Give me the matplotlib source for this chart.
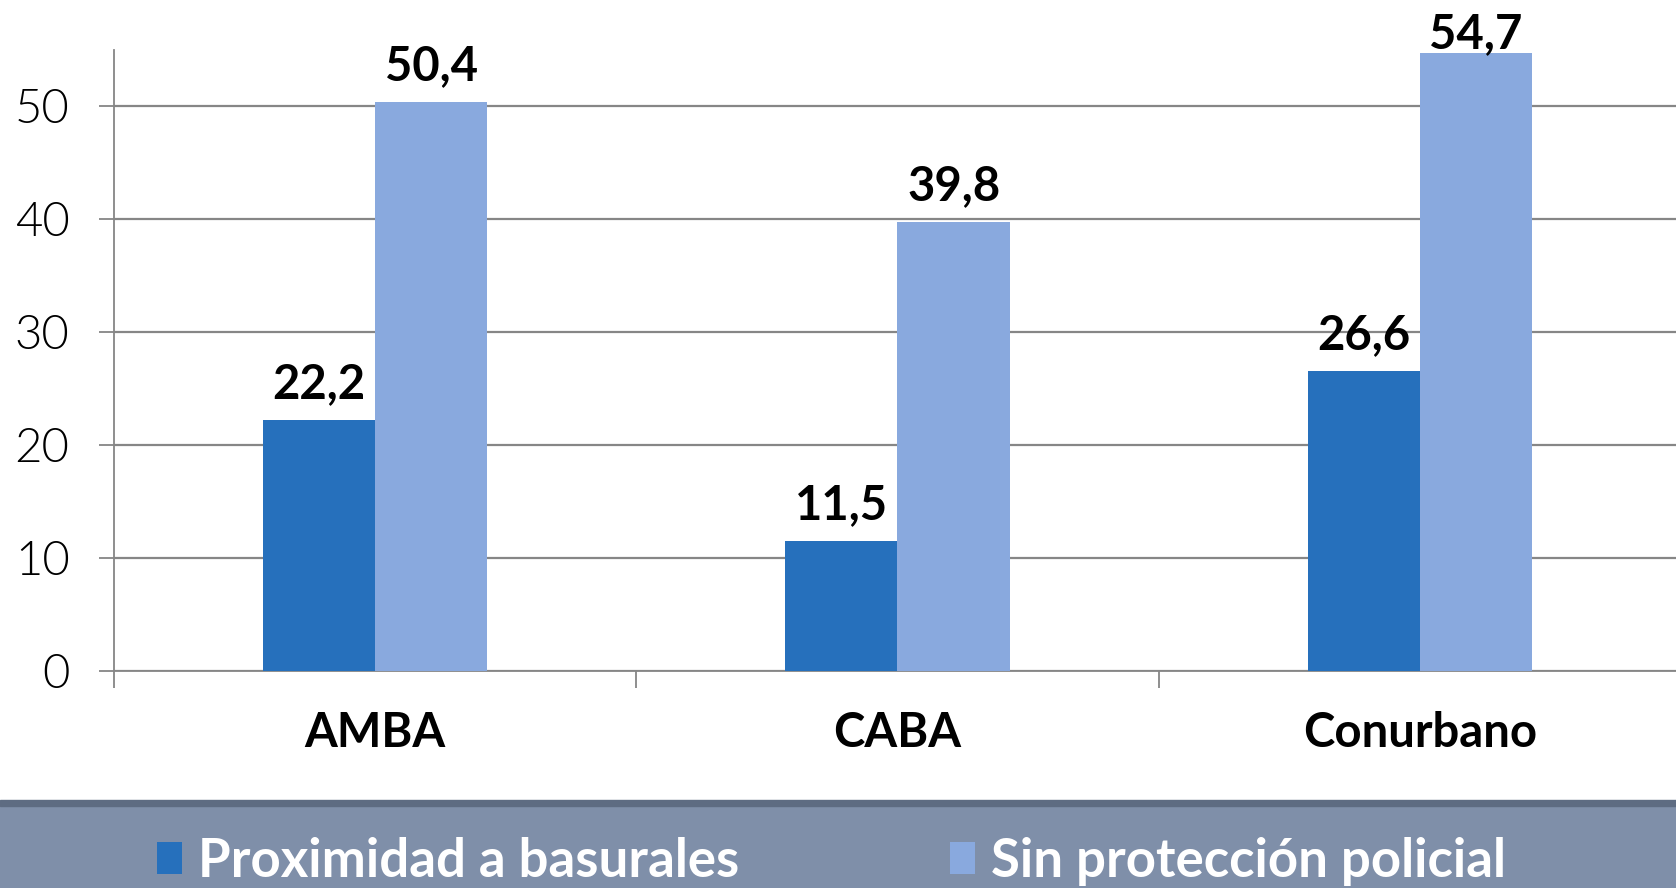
import matplotlib.pyplot as plt
import numpy as np
from matplotlib.patches import Rectangle

plt.rcParams['font.family'] = ['Lato', 'DejaVu Sans']

# datos
categorias = ['AMBA', 'CABA', 'Conurbano']
series = ['Proximidad a basurales', 'Sin protección policial']
basurales = [22.2, 11.5, 26.6]
sin_policia = [50.4, 39.8, 54.7]
etiquetas_y = [0, 10, 20, 30, 40, 50]

color_osc = '#2670BC'
color_cla = '#89A9DE'
gris = '#868686'

fig = plt.figure(figsize=(16.76, 8.88), dpi=100)
ax = fig.add_axes([0.068, 0.2444, 0.935, 0.6993])

x = np.arange(len(categorias))
w = 0.215
b1 = ax.bar(x - w / 2, basurales, w, color=color_osc, label=series[0], zorder=3)
b2 = ax.bar(x + w / 2, sin_policia, w, color=color_cla, label=series[1], zorder=3)

ymax = 55
ax.set_ylim(0, ymax)
ax.set_xlim(-0.5, 2.5)

# px por unidad del eje y
alto_px = ax.get_position().height * fig.get_figheight() * fig.dpi
px_unidad = alto_px / ymax

for barras in (b1, b2):
    for r in barras:
        v = r.get_height()
        # la etiqueta baja si no cabe arriba
        hueco = min(22, (ymax - v) * px_unidad + 2)
        ax.annotate(f'{v:.1f}'.replace('.', ','), (r.get_x() + r.get_width() / 2, v),
                    xytext=(0, hueco * 72 / fig.dpi), textcoords='offset points',
                    ha='center', va='baseline',
                    fontsize=34, fontweight='bold', color='black', zorder=4)

ax.set_yticks(etiquetas_y)
ax.set_yticklabels([str(e) for e in etiquetas_y], fontsize=34, fontweight=300, color='black')
ax.set_xticks(x)
ax.set_xticklabels(categorias, fontsize=34, fontweight='bold')
ax.set_xticks([-0.5, 0.5, 1.5], minor=True)
ax.tick_params(axis='x', which='major', length=0, pad=29)
ax.tick_params(axis='x', which='minor', length=12, width=1.3, color=gris, direction='out')
ax.tick_params(axis='y', length=11, width=1.3, color=gris, pad=21)

ax.grid(True, axis='y', color=gris, linewidth=1.6, zorder=0)
for s in ['top', 'right']:
    ax.spines[s].set_visible(False)
for s in ['left', 'bottom']:
    ax.spines[s].set_color(gris)
    ax.spines[s].set_linewidth(1.3)

# banda de leyenda
fig.patches.append(Rectangle((0, 0), 1, 0.0985, transform=fig.transFigure,
                             color='#7F8FA9', zorder=0))
fig.patches.append(Rectangle((0, 0.0925), 1, 0.0065, transform=fig.transFigure,
                             color='#5E6C82', zorder=1))

for barra, nombre, x0 in [(b1, series[0], 157 / 1676), (b2, series[1], 950 / 1676)]:
    fig.legend(handles=[barra], labels=[nombre], loc='lower left',
               bbox_to_anchor=(x0, 0.0025), frameon=False,
               prop={'weight': 'bold', 'size': 38}, labelcolor='white',
               borderpad=0, borderaxespad=0,
               handlelength=0.47, handleheight=0.55, handletextpad=0.3)

fig.savefig('out.png', dpi=100)
